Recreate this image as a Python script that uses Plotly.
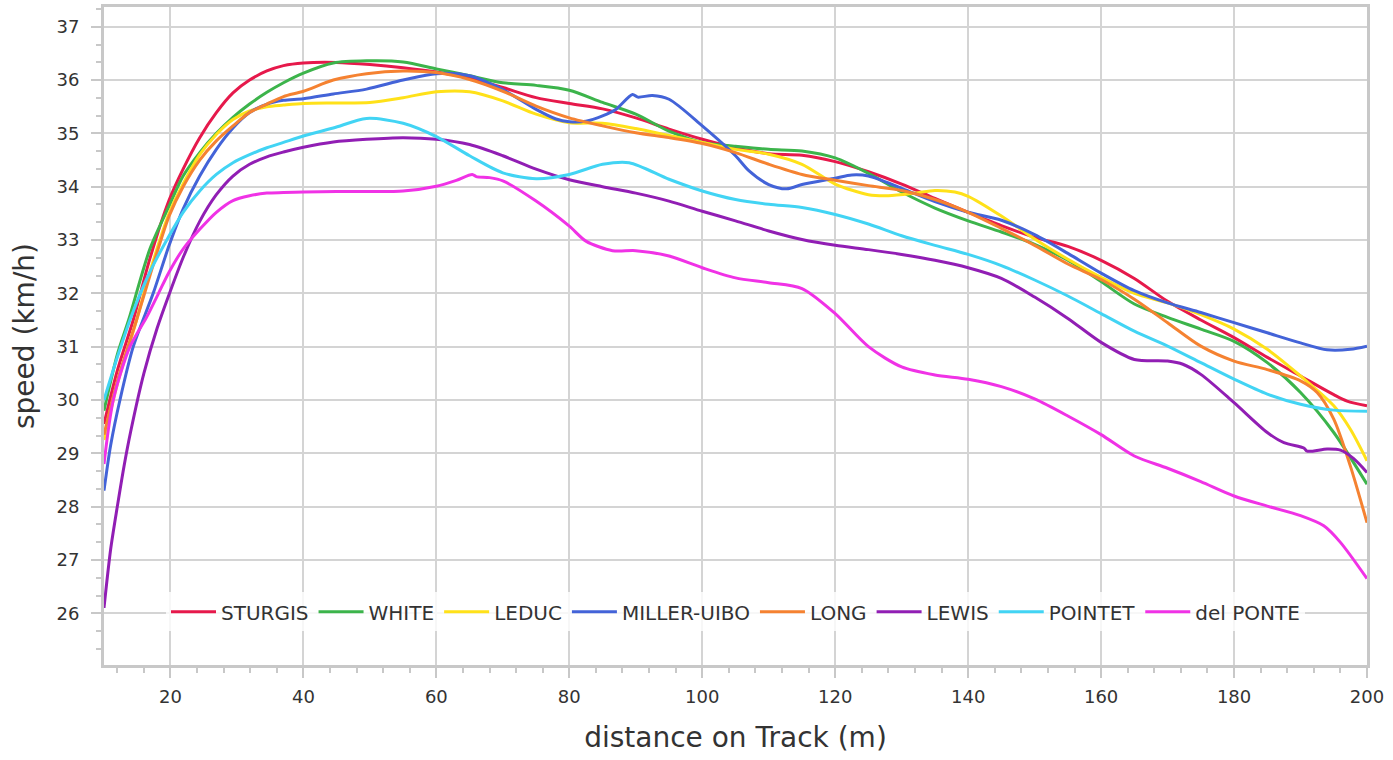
import plotly.graph_objects as go

# ---- data ----
sturgis_x = [10, 12, 14.4, 16.9, 19.8, 21.9, 24.4, 26.9, 29.4, 31.9, 34.5, 37, 40, 45, 50, 55, 60, 65, 70, 75, 80, 85, 90, 95, 100, 105, 110, 115, 120, 125, 130, 135, 140, 145, 150, 155, 160, 165, 170, 175, 180, 185, 190, 195, 197, 200]
sturgis_y = [29.55, 30.55, 31.5, 32.65, 33.75, 34.33, 34.92, 35.39, 35.76, 36.0, 36.17, 36.27, 36.32, 36.33, 36.29, 36.23, 36.15, 36.04, 35.86, 35.67, 35.56, 35.46, 35.29, 35.08, 34.89, 34.73, 34.62, 34.59, 34.47, 34.28, 34.05, 33.78, 33.52, 33.27, 33.05, 32.88, 32.62, 32.28, 31.85, 31.5, 31.17, 30.8, 30.45, 30.1, 29.98, 29.89]

white_x = [10, 12, 13.7, 16.9, 19.8, 21.9, 24.4, 26.9, 29.4, 31.9, 34.5, 37, 40, 44.5, 49.5, 55, 60, 65, 70, 75, 80, 85, 90, 95, 100, 105, 110, 115, 120, 125, 130, 135, 140, 145, 150, 155, 160, 165, 170, 175, 180, 185, 190, 195, 200]
white_y = [29.8, 30.85, 31.5, 32.83, 33.64, 34.2, 34.64, 35.0, 35.3, 35.55, 35.77, 35.95, 36.13, 36.32, 36.36, 36.34, 36.21, 36.08, 35.95, 35.9, 35.81, 35.58, 35.36, 35.04, 34.83, 34.76, 34.7, 34.67, 34.54, 34.25, 33.9, 33.6, 33.36, 33.15, 32.92, 32.62, 32.22, 31.8, 31.55, 31.33, 31.1, 30.7, 30.14, 29.39, 28.42]

leduc_x = [10, 12, 14.9, 16.9, 19.8, 21.9, 24.4, 26.9, 29.4, 31.9, 34.5, 37, 40, 45, 50, 55, 60, 65, 70, 75, 80, 85, 90, 95, 100, 105, 110, 115, 120, 125, 128, 132, 135, 138, 140, 145, 150, 155, 160, 165, 170, 175, 180, 185, 190, 195, 197.5, 200]
leduc_y = [29.25, 30.3, 31.5, 32.4, 33.5, 34.05, 34.6, 34.98, 35.26, 35.42, 35.5, 35.53, 35.56, 35.57, 35.58, 35.67, 35.78, 35.78, 35.61, 35.36, 35.2, 35.19, 35.09, 34.96, 34.83, 34.7, 34.61, 34.42, 34.05, 33.85, 33.83, 33.88, 33.93, 33.9, 33.82, 33.45, 33.02, 32.64, 32.3, 32.0, 31.82, 31.6, 31.33, 30.95, 30.45, 29.89, 29.45, 28.86]

miller_x = [10, 11, 12.4, 14.4, 17.4, 19.8, 21.9, 24.4, 26.9, 29.4, 31.9, 34.5, 37, 40, 44.5, 49.5, 55, 60, 65, 70, 75, 78, 80, 82.5, 85, 87, 89.5, 90.3, 92.5, 95, 100, 105, 107, 110, 112.7, 115, 120, 122.5, 125, 130, 135, 140, 145, 150, 155, 160, 165, 170, 175, 180, 185, 190, 194, 197.5, 200]
miller_y = [28.3, 29.15, 30.0, 31.0, 32.0, 32.9, 33.58, 34.2, 34.7, 35.1, 35.39, 35.55, 35.62, 35.65, 35.74, 35.83, 36.0, 36.12, 36.08, 35.82, 35.45, 35.27, 35.22, 35.23, 35.33, 35.45, 35.73, 35.68, 35.71, 35.64, 35.14, 34.58, 34.3, 34.04, 33.96, 34.04, 34.16, 34.22, 34.2, 33.97, 33.72, 33.52, 33.37, 33.1, 32.75, 32.38, 32.05, 31.82, 31.64, 31.45, 31.26, 31.07, 30.94, 30.95, 31.01]

long_x = [10, 12, 14.9, 16.9, 19.8, 21.9, 24.4, 26.9, 29.4, 31.9, 34.5, 37, 40, 44.5, 49.5, 55, 60, 65, 70, 75, 80, 85, 90, 95, 100, 105, 110, 115, 120, 125, 130, 135, 140, 145, 150, 155, 160, 165, 170, 175, 180, 185, 190, 192.5, 195, 197.5, 200]
long_y = [29.35, 30.35, 31.5, 32.33, 33.45, 34.0, 34.5, 34.86, 35.14, 35.39, 35.55, 35.69, 35.79, 36.0, 36.12, 36.17, 36.14, 36.01, 35.79, 35.51, 35.29, 35.14, 35.01, 34.92, 34.81, 34.64, 34.42, 34.23, 34.12, 34.02, 33.93, 33.76, 33.52, 33.22, 32.9, 32.55, 32.26, 31.89, 31.45, 31.01, 30.73, 30.57, 30.36, 30.14, 29.64, 28.76, 27.7]

lewis_x = [10, 11, 12, 13, 14, 16, 18, 20, 22, 24.4, 26.9, 29.4, 31.9, 34.5, 37, 40, 44.5, 49.5, 55, 60, 65, 70, 75, 80, 85, 90, 95, 100, 105, 110, 115, 120, 125, 130, 135, 140, 145, 150, 155, 160, 165, 170, 172.3, 175, 180, 185, 187.5, 190.5, 191, 194, 196, 198, 200]
lewis_y = [26.1, 27.2, 28.0, 28.75, 29.4, 30.5, 31.35, 32.05, 32.7, 33.35, 33.85, 34.2, 34.42, 34.56, 34.65, 34.74, 34.84, 34.89, 34.92, 34.89, 34.79, 34.58, 34.33, 34.13, 34.0, 33.88, 33.73, 33.54, 33.36, 33.17, 33.01, 32.9, 32.82, 32.73, 32.62, 32.48, 32.28, 31.93, 31.53, 31.08, 30.76, 30.73, 30.67, 30.48, 29.95, 29.39, 29.2, 29.1, 29.04, 29.08, 29.06, 28.9, 28.64]

pointet_x = [10, 12, 14.2, 16.9, 19.8, 21.9, 24.4, 26.9, 29.4, 31.9, 34.5, 37, 40, 44.5, 49.5, 55, 60, 65, 70, 75, 80, 85, 89, 95, 100, 105, 110, 115, 120, 125, 130, 135, 140, 145, 150, 155, 160, 165, 170, 175, 180, 185, 190, 195, 200]
pointet_y = [30.0, 30.8, 31.6, 32.4, 33.08, 33.52, 33.92, 34.23, 34.45, 34.6, 34.73, 34.83, 34.95, 35.1, 35.28, 35.19, 34.94, 34.58, 34.26, 34.15, 34.23, 34.42, 34.45, 34.14, 33.92, 33.76, 33.67, 33.61, 33.48, 33.3, 33.08, 32.9, 32.73, 32.52, 32.25, 31.95, 31.62, 31.29, 31.01, 30.7, 30.39, 30.11, 29.92, 29.81, 29.79]

delponte_x = [10, 11.4, 13.9, 16.4, 18.2, 19.8, 21.9, 24.4, 26.9, 29.4, 31.9, 34.5, 37, 40, 45, 50, 55, 60, 63, 65.4, 66, 68, 70, 75, 80, 82.5, 86.5, 90, 95, 100, 105, 110, 115, 120, 125, 130, 135, 140, 145, 150, 155, 160, 165, 170, 175, 180, 185, 190, 193.5, 196, 200]
delponte_y = [28.8, 30.0, 31.0, 31.55, 32.0, 32.4, 32.83, 33.2, 33.52, 33.74, 33.83, 33.88, 33.89, 33.9, 33.91, 33.91, 33.92, 34.01, 34.12, 34.23, 34.19, 34.17, 34.11, 33.73, 33.26, 32.98, 32.8, 32.8, 32.7, 32.48, 32.29, 32.2, 32.09, 31.62, 31.0, 30.62, 30.47, 30.39, 30.25, 30.02, 29.7, 29.35, 28.95, 28.72, 28.47, 28.2, 28.01, 27.83, 27.64, 27.33, 26.65]

names = ["STURGIS", "WHITE", "LEDUC", "MILLER-UIBO", "LONG", "LEWIS", "POINTET", "del PONTE"]
colors = ["#e6194b", "#3cb44b", "#ffe119", "#4363d8", "#f58231", "#911eb4", "#42d4f4", "#f032e6"]
series = [
    (sturgis_x, sturgis_y), (white_x, white_y), (leduc_x, leduc_y), (miller_x, miller_y),
    (long_x, long_y), (lewis_x, lewis_y), (pointet_x, pointet_y), (delponte_x, delponte_y),
]

fig = go.Figure()
for name, color, (xs, ys) in zip(names, colors, series):
    fig.add_trace(go.Scatter(x=xs, y=ys, name=name, mode="lines",
                             line=dict(color=color, width=3, shape="spline", smoothing=0.8)))

axis_grey = "#c8c8c8"
text_col = "#333333"
font_family = "DejaVu Sans"
fig.update_layout(
    width=1393, height=760,
    margin=dict(l=104, r=26, t=7, b=95),
    paper_bgcolor="white", plot_bgcolor="white",
    font=dict(family=font_family, size=18, color=text_col),
    legend=dict(orientation="h", x=0.5, xanchor="center", y=0.081, yanchor="middle",
                itemwidth=45,
                bgcolor="rgba(255,255,255,0.8)", font=dict(size=20, color=text_col)),
)
fig.update_xaxes(
    range=[10, 200], tick0=0, dtick=20, automargin=False,
    showgrid=True, gridcolor="#d4d4d4", gridwidth=2, zeroline=False,
    showline=True, linecolor=axis_grey, linewidth=3, mirror=True,
    ticks="outside", ticklen=10, tickwidth=2, tickcolor=axis_grey,
    minor=dict(tick0=0, dtick=4, ticks="outside", ticklen=5, tickwidth=2, tickcolor=axis_grey, showgrid=False),
    tickfont=dict(size=18, color=text_col), ticklabelstandoff=3,
    title=dict(text="distance on Track (m)", font=dict(size=28, color=text_col), standoff=22),
)
fig.update_yaxes(
    range=[25.03, 37.37], tick0=0, dtick=1, automargin=False,
    showgrid=True, gridcolor="#d4d4d4", gridwidth=2, zeroline=False,
    showline=True, linecolor=axis_grey, linewidth=3, mirror=True,
    ticks="outside", ticklen=10, tickwidth=2, tickcolor=axis_grey,
    minor=dict(tick0=0, dtick=1/3, ticks="outside", ticklen=5, tickwidth=2, tickcolor=axis_grey, showgrid=False),
    tickfont=dict(size=18, color=text_col), ticklabelstandoff=8,
    title=dict(text="speed (km/h)", font=dict(size=28, color=text_col), standoff=14),
)

fig.write_html("out.html", config={"displayModeBar": False},
               post_script="document.body.style.margin='0';document.body.style.overflow='hidden';")
